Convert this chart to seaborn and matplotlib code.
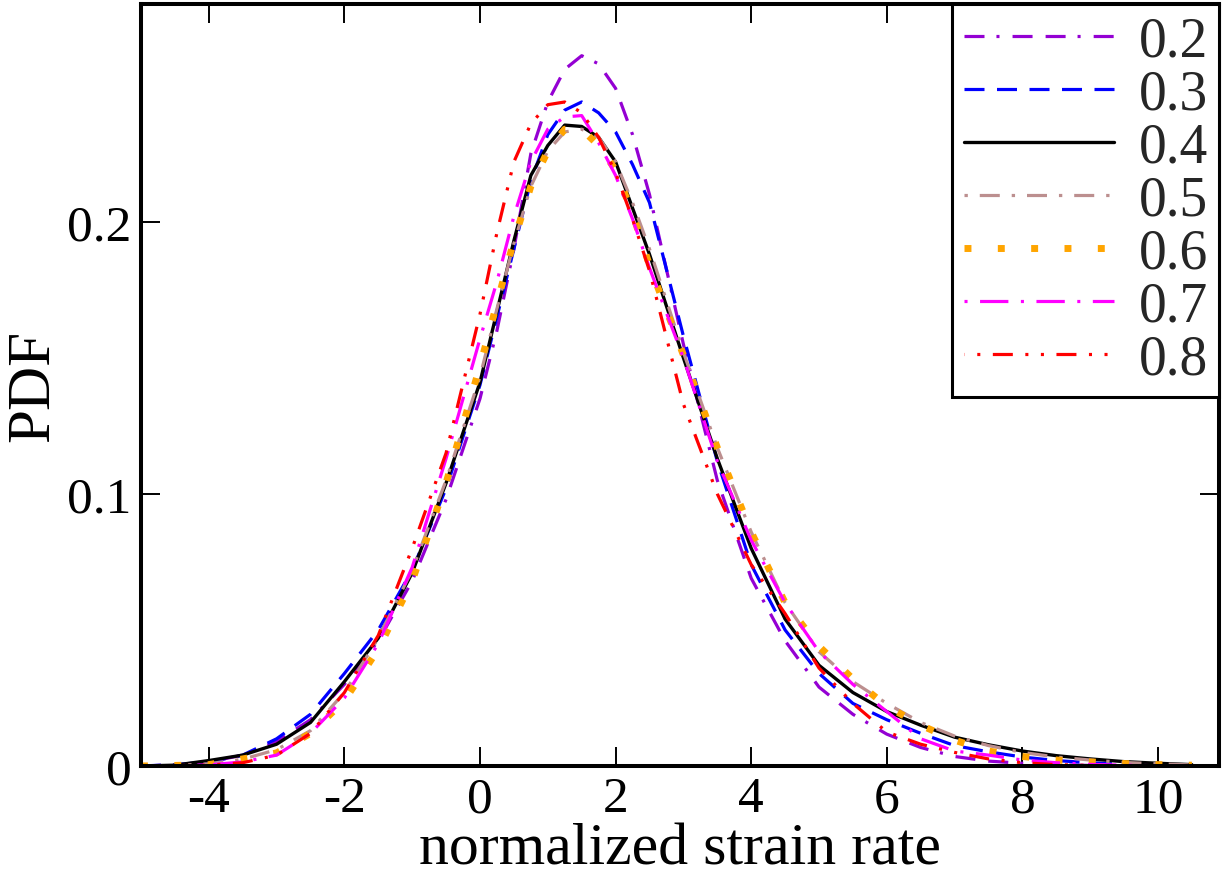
import matplotlib
matplotlib.use("Agg")
import matplotlib.pyplot as plt
import pandas as pd
import seaborn as sns

# grid of normalized strain rate (finer around the peak)
x = [-5.0, -4.5, -4.0, -3.5, -3.0, -2.5, -2.0, -1.5, -1.0, -0.5,
     0.0, 0.25, 0.5, 0.75, 1.0, 1.25, 1.5, 1.75, 2.0, 2.25, 2.5,
     3.0, 3.5, 4.0, 4.5, 5.0, 5.5, 6.0, 6.5,
     7.0, 7.5, 8.0, 8.5, 9.0, 9.5, 10.0, 10.5]

pdf_02 = [0.0, 0.0004, 0.0015, 0.004, 0.009, 0.017, 0.030, 0.046, 0.068, 0.098,
          0.135, 0.160, 0.190, 0.225, 0.244, 0.256, 0.261, 0.258, 0.249, 0.232, 0.210,
          0.155, 0.105, 0.069, 0.046, 0.029, 0.019, 0.0117, 0.0068,
          0.0035, 0.0018, 0.001, 0.0005, 0.0002, 0.0001, 0.0, 0.0]
pdf_03 = [0.0, 0.0005, 0.0015, 0.004, 0.010, 0.019, 0.034, 0.050, 0.072, 0.102,
          0.140, 0.165, 0.190, 0.215, 0.232, 0.241, 0.244, 0.240, 0.233, 0.221, 0.207,
          0.158, 0.112, 0.074, 0.050, 0.034, 0.023, 0.017, 0.012,
          0.0075, 0.0052, 0.0033, 0.002, 0.0012, 0.0006, 0.0003, 0.0001]
pdf_04 = [0.0, 0.0003, 0.002, 0.004, 0.008, 0.016, 0.031, 0.047, 0.071, 0.104,
          0.141, 0.167, 0.193, 0.217, 0.228, 0.2355, 0.235, 0.231, 0.222, 0.205, 0.188,
          0.150, 0.113, 0.080, 0.054, 0.037, 0.027, 0.020, 0.015,
          0.0106, 0.0078, 0.0055, 0.0038, 0.0026, 0.0016, 0.001, 0.0005]
pdf_05 = [0.0, 0.0002, 0.0008, 0.0025, 0.006, 0.013, 0.027, 0.047, 0.072, 0.105,
          0.143, 0.168, 0.192, 0.213, 0.226, 0.233, 0.234, 0.231, 0.222, 0.207, 0.190,
          0.152, 0.117, 0.086, 0.060, 0.042, 0.031, 0.023, 0.016,
          0.011, 0.0075, 0.005, 0.0033, 0.0022, 0.0013, 0.0008, 0.0004]
pdf_06 = [0.0, 0.0002, 0.0005, 0.0026, 0.0048, 0.012, 0.024, 0.043, 0.068, 0.104,
          0.147, 0.170, 0.193, 0.213, 0.226, 0.234, 0.234, 0.228, 0.219, 0.203, 0.184,
          0.151, 0.117, 0.086, 0.060, 0.044, 0.032, 0.022, 0.015,
          0.0095, 0.0055, 0.0035, 0.0022, 0.0015, 0.0009, 0.0005, 0.0003]
pdf_07 = [0.0, 0.0001, 0.0004, 0.0015, 0.004, 0.012, 0.025, 0.045, 0.073, 0.113,
          0.157, 0.178, 0.202, 0.222, 0.234, 0.2385, 0.239, 0.229, 0.217, 0.201, 0.183,
          0.150, 0.112, 0.083, 0.060, 0.042, 0.030, 0.020, 0.010,
          0.0055, 0.004, 0.0022, 0.0012, 0.0006, 0.0003, 0.0001, 0.0]
pdf_08 = [0.0, 0.0001, 0.0003, 0.0012, 0.004, 0.012, 0.027, 0.048, 0.080, 0.115,
          0.166, 0.196, 0.222, 0.236, 0.243, 0.244, 0.240, 0.231, 0.218, 0.201, 0.182,
          0.133, 0.100, 0.074, 0.056, 0.036, 0.023, 0.0125, 0.008,
          0.005, 0.0026, 0.0012, 0.0005, 0.0002, 0.0, 0.0, 0.0]

labels = ["0.2", "0.3", "0.4", "0.5", "0.6", "0.7", "0.8"]
series = [pdf_02, pdf_03, pdf_04, pdf_05, pdf_06, pdf_07, pdf_08]
colors = ["#9400d3", "#0000ff", "#000000", "#bc8f8f", "#ffa500", "#ff00ff", "#ff0000"]
styles = [(0, (14.4, 8.6, 2.2, 9.4, 14.4, 9.4)),
          (0, (14.4, 9.0)),
          "-",
          (0, (2.4, 8.6, 14.4, 8.6)),
          (0, (5.0, 19.0)),
          (0, (2.2, 9.0, 20.4, 9.0)),
          (25.4, (14.4, 9.0, 2.2, 9.0, 2.2, 9.0))]
widths = [2.3, 2.3, 2.4, 2.3, 5.0, 2.3, 2.3]

sns.set_theme(style="ticks")
plt.rcParams["font.family"] = ["Liberation Serif", "DejaVu Serif"]
plt.rcParams["lines.scale_dashes"] = False

fig = plt.figure(figsize=(12.23, 8.78), dpi=100)
ax = fig.add_axes([141 / 1223, 1 - 767 / 878, (1219 - 141) / 1223, (767 - 5) / 878])

for lab, vals, c, ls, lw in zip(labels, series, colors, styles, widths):
    df = pd.DataFrame({"x": x, "pdf": vals})
    sns.lineplot(data=df, x="x", y="pdf", color=c, linestyle=ls, linewidth=lw,
                 label=lab, ax=ax, dash_capstyle="butt")

ax.set_xlim(-5, 10.9)
ax.set_ylim(0, 0.28)
ax.set_xticks([-4, -2, 0, 2, 4, 6, 8, 10])
ax.set_xticklabels(["-4", "-2", "0", "2", "4", "6", "8", "10"])
ax.set_yticks([0, 0.1, 0.2])
ax.set_yticklabels(["0", "0.1", "0.2"])
ax.tick_params(direction="in", length=14, width=1.4, top=True, right=True,
               labelsize=37, pad=7, color="black", labelcolor="black")
for sp in ax.spines.values():
    sp.set_linewidth(2.9)
    sp.set_color("black")

ax.set_xlabel("normalized strain rate", fontsize=43, labelpad=0, color="black")
ax.set_ylabel("PDF", fontsize=44, labelpad=4, color="black")

leg = ax.legend(loc="upper right", bbox_to_anchor=(1, 1), borderaxespad=0,
                fontsize=40, handlelength=2.7, handletextpad=0.45,
                labelspacing=0.02, borderpad=0.2, fancybox=False,
                framealpha=1, edgecolor="black")
leg.get_frame().set_linewidth(2.2)

fig.savefig("out.png", dpi=100)
